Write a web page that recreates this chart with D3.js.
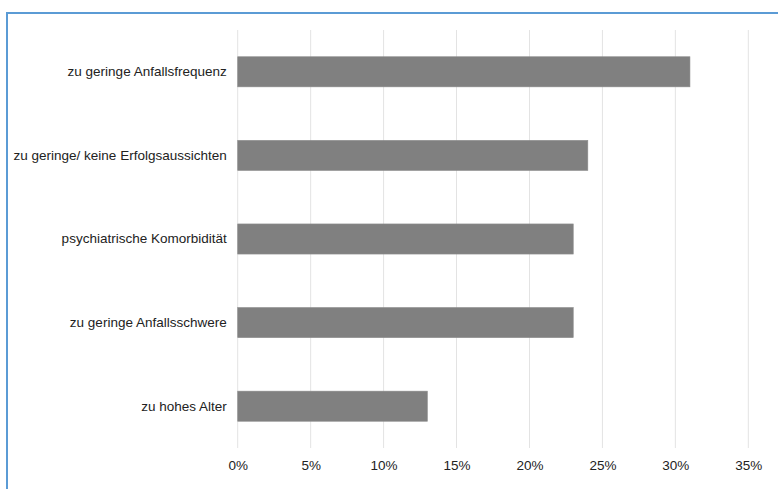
<!DOCTYPE html>
<html lang="de">
<head>
<meta charset="utf-8">
<title>Gründe</title>
<script src="https://cdn.jsdelivr.net/npm/d3@7"></script>
<style>
  body { margin: 0; background: #fff; }
  .frame { position: absolute; left: 6px; top: 12px; width: 780px; height: 490px;
           border-left: 2px solid #5b9bd5; border-top: 2px solid #5b9bd5; }
  svg { position: absolute; left: 0; top: 0; }
</style>
</head>
<body>
<div class="frame"></div>
<svg width="778" height="489"></svg>
<script>
var categories = ["zu geringe Anfallsfrequenz", "zu geringe/ keine Erfolgsaussichten",
                  "psychiatrische Komorbidität", "zu geringe Anfallsschwere", "zu hohes Alter"];
var values = [31, 24, 23, 23, 13];
var ticks = [0, 5, 10, 15, 20, 25, 30, 35];

// plot area (note: "top" is reserved on window, so use plotTop)
var plotLeft = 237.7, plotRight = 748.3, plotTop = 30, plotBottom = 448;
var font = "'Liberation Sans', Arial, sans-serif";

var svg = d3.select("svg");

var x = d3.scaleLinear().domain([0, 35]).range([plotLeft, plotRight]);
var y = d3.scaleBand().domain(categories).range([plotTop, plotBottom]).paddingInner(0.64).paddingOuter(0.32);

// gridlines
svg.append("g")
  .selectAll("line")
  .data(ticks)
  .enter().append("line")
    .attr("x1", function(d) { return x(d); })
    .attr("x2", function(d) { return x(d); })
    .attr("y1", plotTop)
    .attr("y2", plotBottom)
    .attr("stroke", "#e3e3e3")
    .attr("stroke-width", 1);

// bars
svg.append("g")
  .selectAll("rect")
  .data(values)
  .enter().append("rect")
    .attr("x", x(0))
    .attr("y", function(d, i) { return y(categories[i]); })
    .attr("width", function(d) { return x(d) - x(0); })
    .attr("height", y.bandwidth())
    .attr("fill", "#808080")
    .attr("stroke", "#8c8c8c")
    .attr("stroke-width", 0.6);

// x axis
var xAxis = svg.append("g")
  .attr("transform", "translate(0," + plotBottom + ")")
  .call(d3.axisBottom(x).tickValues(ticks).tickSize(0).tickPadding(12).tickFormat(function(d) { return d + "%"; }));
xAxis.select(".domain").remove();
xAxis.selectAll("text").style("font-family", font).style("font-size", "13.5px").attr("fill", "#222");

// y axis
var yAxis = svg.append("g")
  .attr("transform", "translate(" + (plotLeft - 11) + ",0)")
  .call(d3.axisLeft(y).tickSize(0).tickPadding(0));
yAxis.select(".domain").remove();
yAxis.selectAll("text").style("font-family", font).style("font-size", "13.5px").attr("fill", "#222");
</script>
</body>
</html>
